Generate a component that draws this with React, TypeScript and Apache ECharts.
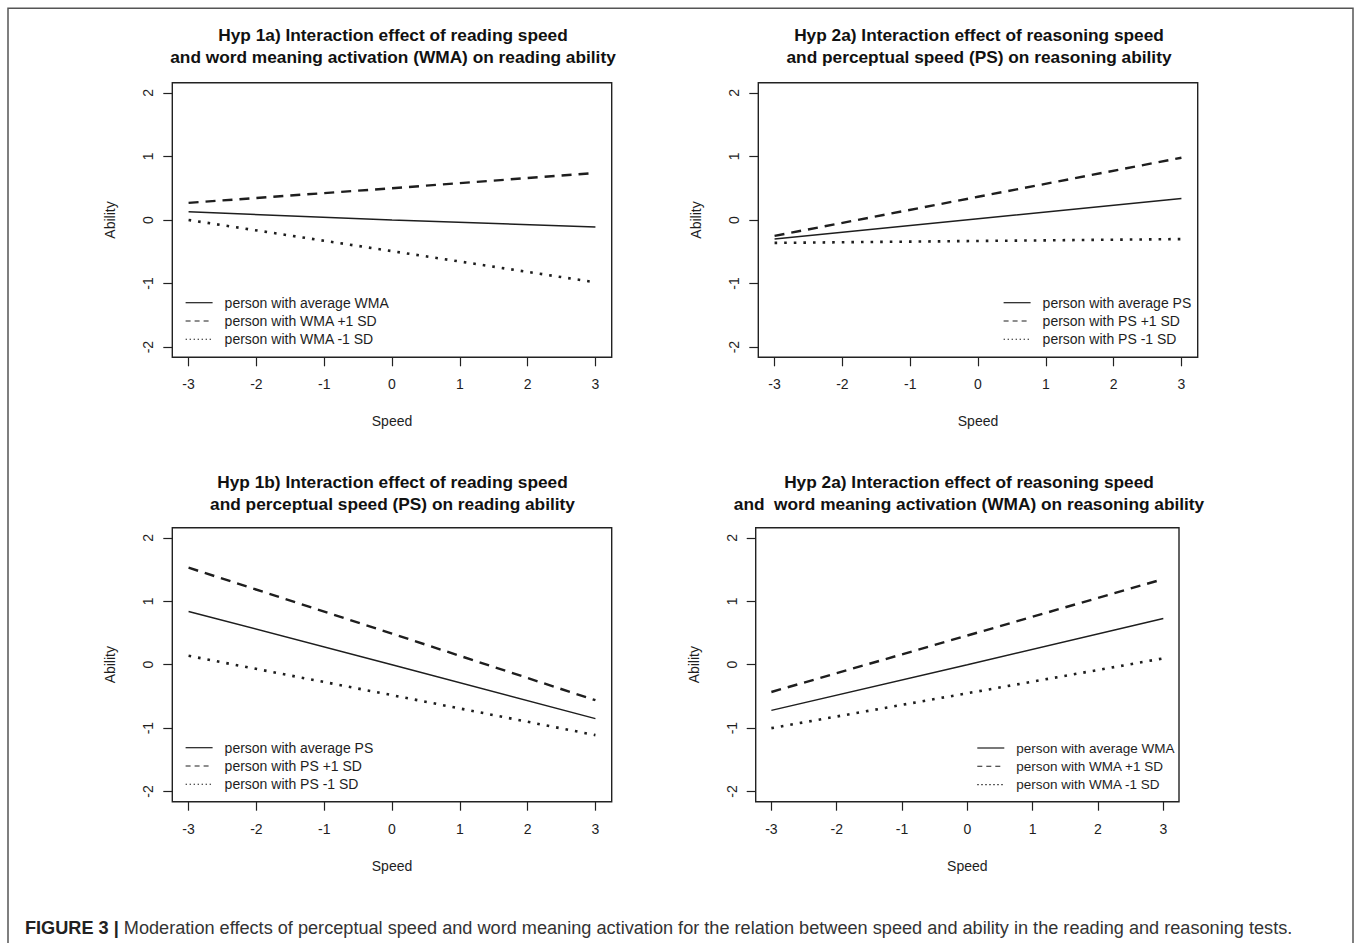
import React, { useEffect, useRef } from "react";
import * as echarts from "echarts";

// ---------- data ----------
const speedTicks = [-3, -2, -1, 0, 1, 2, 3];
const abilityTicks = [-2, -1, 0, 1, 2];
const speedPoints = [-3, 0, 3];

const panelTitles = [
  "Hyp 1a) Interaction effect of reading speed\nand word meaning activation (WMA) on reading ability",
  "Hyp 2a) Interaction effect of reasoning speed\nand perceptual speed (PS) on reasoning ability",
  "Hyp 1b) Interaction effect of reading speed\nand perceptual speed (PS) on reading ability",
  "Hyp 2a) Interaction effect of reasoning speed\nand  word meaning activation (WMA) on reasoning ability",
];

const wmaNames = ["person with average WMA", "person with WMA +1 SD", "person with WMA -1 SD"];
const psNames = ["person with average PS", "person with PS +1 SD", "person with PS -1 SD"];

// Hyp 1a (WMA, reading)
const p1Average = [0.13, 0.0, -0.11];
const p1Plus = [0.27, 0.5, 0.74];
const p1Minus = [0.0, -0.49, -0.98];
// Hyp 2a (PS, reasoning)
const p2Average = [-0.3, 0.02, 0.34];
const p2Plus = [-0.25, 0.365, 0.98];
const p2Minus = [-0.36, -0.33, -0.3];
// Hyp 1b (PS, reading)
const p3Average = [0.84, 0.0, -0.85];
const p3Plus = [1.53, 0.49, -0.56];
const p3Minus = [0.14, -0.48, -1.11];
// Hyp 2a (WMA, reasoning)
const p4Average = [-0.72, 0.0, 0.73];
const p4Plus = [-0.43, 0.46, 1.35];
const p4Minus = [-1.0, -0.45, 0.1];

const captionBold = "FIGURE 3 |";
const captionText =
  "Moderation effects of perceptual speed and word meaning activation for the relation between speed and ability in the reading and reasoning tests.";

// ---------- layout / style ----------
const FONT = '"Liberation Sans", Arial, Helvetica, sans-serif';
const INK = "#1e1e1e";

const panels = [
  { names: wmaNames, values: [p1Average, p1Plus, p1Minus], grid: { left: 172.3, top: 82.7, width: 439.4, height: 274.6 }, titleX: 393, titleY: 24, legend: { left: 185, top: 295.7 }, legendFont: 14 },
  { names: psNames, values: [p2Average, p2Plus, p2Minus], grid: { left: 758.3, top: 82.7, width: 439.4, height: 274.6 }, titleX: 979, titleY: 24, legend: { left: 1003, top: 295.7 }, legendFont: 14 },
  { names: psNames, values: [p3Average, p3Plus, p3Minus], grid: { left: 172.3, top: 527.7, width: 439.4, height: 274 }, titleX: 392.5, titleY: 470.7, legend: { left: 185, top: 740.7 }, legendFont: 14 },
  { names: wmaNames, values: [p4Average, p4Plus, p4Minus], grid: { left: 755.7, top: 527.7, width: 423.3, height: 274 }, titleX: 969, titleY: 470.7, legend: { left: 976.7, top: 741 }, legendFont: 13.5 },
];

const seriesLine = [
  { color: INK, width: 1.5, type: "solid" as any },
  { color: INK, width: 2.4, type: [10, 7] as any },
  { color: INK, width: 2.6, type: [2.6, 7] as any },
];
const legendLine = [
  { color: INK, width: 1.2, type: "solid" as any },
  { color: INK, width: 1.1, type: [5, 4] as any },
  { color: INK, width: 1.1, type: [1.4, 2.6] as any },
];

export default function App() {
  const ref = useRef<HTMLDivElement>(null);

  useEffect(() => {
    if (!ref.current) return;
    const chart = echarts.init(ref.current, null, { renderer: "svg" });

    const grids: any[] = [];
    const xAxes: any[] = [];
    const yAxes: any[] = [];
    const series: any[] = [];
    const legends: any[] = [];
    const graphics: any[] = [];

    panels.forEach((p, i) => {
      grids.push({
        ...p.grid,
        show: true,
        borderColor: "#222",
        borderWidth: 1.4,
        backgroundColor: "transparent",
        containLabel: false,
      });
      xAxes.push({
        type: "value",
        gridIndex: i,
        position: "bottom",
        min: -3.24,
        max: 3.24,
        name: "Speed",
        nameLocation: "middle",
        nameGap: 57,
        nameTextStyle: { fontSize: 14, color: INK, fontFamily: FONT },
        axisLine: { show: false, onZero: false },
        axisTick: { show: true, inside: false, length: 9, customValues: speedTicks, lineStyle: { color: "#222", width: 1.2 } },
        axisLabel: { customValues: speedTicks, fontSize: 14, margin: 20, color: INK, fontFamily: FONT },
        splitLine: { show: false },
      });
      yAxes.push({
        type: "value",
        gridIndex: i,
        position: "left",
        min: -2.16,
        max: 2.16,
        name: "Ability",
        nameLocation: "middle",
        nameGap: 55,
        nameRotate: 90,
        nameTextStyle: { fontSize: 14, color: INK, fontFamily: FONT },
        axisLine: { show: false, onZero: false },
        axisTick: { show: true, inside: false, length: 9, customValues: abilityTicks, lineStyle: { color: "#222", width: 1.2 } },
        axisLabel: { customValues: abilityTicks, rotate: 90, fontSize: 14, margin: 17, color: INK, fontFamily: FONT },
        splitLine: { show: false },
      });
      p.names.forEach((name, k) => {
        series.push({
          type: "line",
          name,
          xAxisIndex: i,
          yAxisIndex: i,
          data: speedPoints.map((x, j) => [x, p.values[k][j]]),
          symbol: "none",
          silent: true,
          itemStyle: { color: INK },
          lineStyle: { ...seriesLine[k], cap: "butt" },
          z: 3,
        });
      });
      legends.push({
        orient: "vertical",
        left: p.legend.left,
        top: p.legend.top,
        padding: 0,
        itemWidth: 27,
        itemHeight: 14,
        itemGap: 4.3,
        selectedMode: false,
        itemStyle: { color: "transparent", borderColor: "transparent", borderWidth: 0 },
        textStyle: { fontSize: p.legendFont, color: INK, fontFamily: FONT, padding: [0, 0, 0, 7] },
        data: p.names.map((name, k) => ({ name, lineStyle: legendLine[k], itemStyle: { color: "transparent", borderWidth: 0 } })),
      });
      graphics.push({
        type: "text",
        x: p.titleX,
        y: p.titleY,
        silent: true,
        style: {
          text: panelTitles[i],
          align: "center",
          textAlign: "center",
          verticalAlign: "top",
          textVerticalAlign: "top",
          fontSize: 17.3,
          fontWeight: "bold",
          fontFamily: FONT,
          lineHeight: 22,
          fill: "#111",
        },
      });
    });

    // outer frame
    graphics.push({
      type: "rect",
      silent: true,
      shape: { x: 8, y: 8.3, width: 1345, height: 960 },
      style: { fill: "none", stroke: "#555", lineWidth: 1.5 },
    });
    // caption
    graphics.push({
      type: "text",
      x: 25,
      y: 927.5,
      silent: true,
      style: {
        text: `{b|${captionBold}} ${captionText}`,
        verticalAlign: "middle",
        textVerticalAlign: "middle",
        fontSize: 18.15,
        fontFamily: FONT,
        fill: "#333",
        rich: {
          b: { fontSize: 18.15, fontWeight: "bold", fontFamily: FONT, fill: "#222" },
        },
      },
    });

    chart.setOption({
      animation: false,
      backgroundColor: "#fff",
      grid: grids,
      xAxis: xAxes,
      yAxis: yAxes,
      legend: legends,
      series,
      graphic: graphics,
    });

    return () => chart.dispose();
  }, []);

  return (
    <div
      ref={ref}
      style={{ position: "absolute", left: 0, top: 0, width: 1357, height: 943 }}
    />
  );
}
